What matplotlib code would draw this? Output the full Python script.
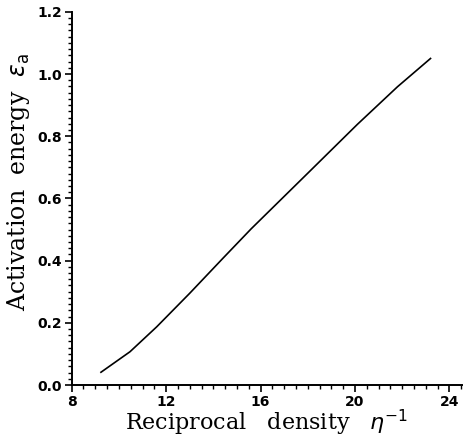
import numpy as np
import matplotlib
matplotlib.use("Agg")
import matplotlib.pyplot as plt
from matplotlib.ticker import MultipleLocator

# values
recip_density = [9.24, 10.47, 11.6, 13.0, 14.4, 15.6, 18.0, 20.1, 21.8, 23.2]
activation_energy = [0.041, 0.107, 0.187, 0.295, 0.407, 0.502, 0.681, 0.838, 0.959, 1.050]

x_ticks = [8, 12, 16, 20, 24]
y_ticks = [0.0, 0.2, 0.4, 0.6, 0.8, 1.0, 1.2]

fig = plt.figure(figsize=(4.64, 4.38), dpi=100)
ax = fig.add_axes([0.1545, 0.121, 0.8405, 0.852])

ax.plot(recip_density, activation_energy, color='black', linewidth=1.2)

ax.set_xlim(8, 24.52)
ax.set_ylim(0, 1.2)
ax.set_xticks(x_ticks)
ax.set_yticks(y_ticks)
ax.set_xticklabels([str(t) for t in x_ticks])
ax.set_yticklabels([f"{t:.1f}" for t in y_ticks])
ax.xaxis.set_minor_locator(MultipleLocator(0.5))
ax.yaxis.set_minor_locator(MultipleLocator(0.02))

for side in ['top', 'right']:
    ax.spines[side].set_visible(False)
for side in ['left', 'bottom']:
    ax.spines[side].set_linewidth(1.4)

ax.tick_params(which='major', direction='out', length=5, width=1.2,
               labelsize=10, pad=2)
ax.tick_params(which='minor', direction='out', length=3, width=1.0)
for lab in ax.get_xticklabels() + ax.get_yticklabels():
    lab.set_fontweight('bold')
    lab.set_family('DejaVu Sans')

ax.set_xlabel(r'Reciprocal   density   $\eta^{-1}$', family='DejaVu Serif',
              fontsize=16, labelpad=-1)
ax.set_ylabel(r'Activation  energy  $\varepsilon_{\rm a}$', family='DejaVu Serif',
              fontsize=17, labelpad=4)
ax.yaxis.label.set_y(0.545)

fig.savefig('out.png', dpi=100)
